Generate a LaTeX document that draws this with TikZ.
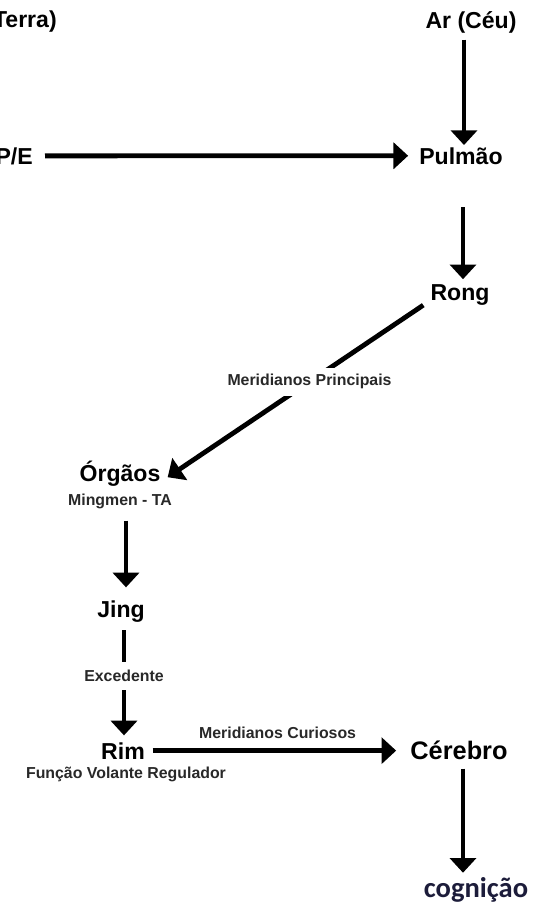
\documentclass[tikz,border=0pt]{standalone}
\usepackage{fontspec}
\setmainfont{Liberation Sans}
\newfontfamily\cogfont{Carlito}
\usetikzlibrary{arrows.meta,calc}
\definecolor{cogcol}{RGB}{28,28,58}
\definecolor{subcol}{RGB}{40,40,40}
\begin{document}
\begin{tikzpicture}[x=0.75pt,y=-0.75pt,
 lbl/.style={inner sep=0pt, anchor=base, font=\bfseries\fontsize{17.3}{20}\selectfont},
 sub/.style={inner sep=0pt, anchor=base, text=subcol, font=\bfseries\fontsize{11.9}{14}\selectfont},
 arr/.style={line width=3.6pt, -{Triangle[width=19.5pt,length=11pt]}},
 cut/.style={fill=white, inner xsep=1pt, inner ysep=5pt, text=subcol, font=\bfseries\fontsize{11.9}{14}\selectfont}]
\fill[white] (0,0) rectangle (536,910);
\useasboundingbox (0,0) rectangle (536,910);
\clip (0,0) rectangle (536,910);

\node[lbl, anchor=base east] (terra) at (57,27) {(Terra)};
\node[lbl] (ar) at (471,28) {Ar (Céu)};
\node[lbl, anchor=base east] (pe) at (33,164) {P/E};
\node[lbl] (pulmao) at (461,164) {Pulmão};
\node[lbl] (rong) at (460,300) {Rong};
\node[lbl] (orgaos) at (120,481) {Órgãos};
\node[sub] (mingmen) at (120,505) {Mingmen - TA};
\node[lbl] (jing) at (121,617) {Jing};
\node[lbl] (rim) at (123,759) {Rim};
\node[sub] (funcao) at (126,778) {Função Volante Regulador};
\node[lbl, font=\bfseries\fontsize{19}{22}\selectfont] (cerebro) at (459,759) {Cérebro};
\node[inner sep=0pt, anchor=base, text=cogcol, font=\cogfont\bfseries\fontsize{21.4}{25}\selectfont] (cog) at (476,897) {cognição};

\draw[arr, shorten <=5pt, shorten >=1.5pt] ($(ar.south -| pulmao.north)+(3,0)$) -- ($(pulmao.north)+(3,0)$);
\draw[arr, shorten <=9pt, shorten >=8.2pt] (pe.east) -- (pulmao.west);
\draw[arr, shorten <=32pt, shorten >=3.5pt] ($(pulmao.south)+(2,0)$) -- ($(pulmao.south |- rong.north)+(2,0)$);
\draw[arr] ($(rong.south west)+(-7,0)$) -- node[cut, pos=0.445] (mp) {Meridianos Principais} ($(orgaos.east)+(7,4)$);
\draw[arr, shorten <=9pt, shorten >=9.5pt] ($(mingmen.south)+(6,0)$) -- ($(mingmen.south |- jing.north)+(6,0)$);
\draw[arr, shorten <=6pt, shorten >=5pt] ($(jing.south)+(3,0)$) -- node[cut, pos=0.45, inner ysep=6pt] (exc) {Excedente} ($(jing.south |- rim.north)+(3,0)$);
\draw[arr, shorten <=5.7pt, shorten >=10.5pt] (rim.east) -- node[sub, pos=0.5, yshift=9pt] (mc) {Meridianos Curiosos} (rim.east -| cerebro.west);
\draw[arr, shorten <=6.75pt, shorten >=3pt] ($(cerebro.south)+(4,0)$) -- ($(cerebro.south |- cog.north)+(4,0)$);
\end{tikzpicture}
\end{document}
